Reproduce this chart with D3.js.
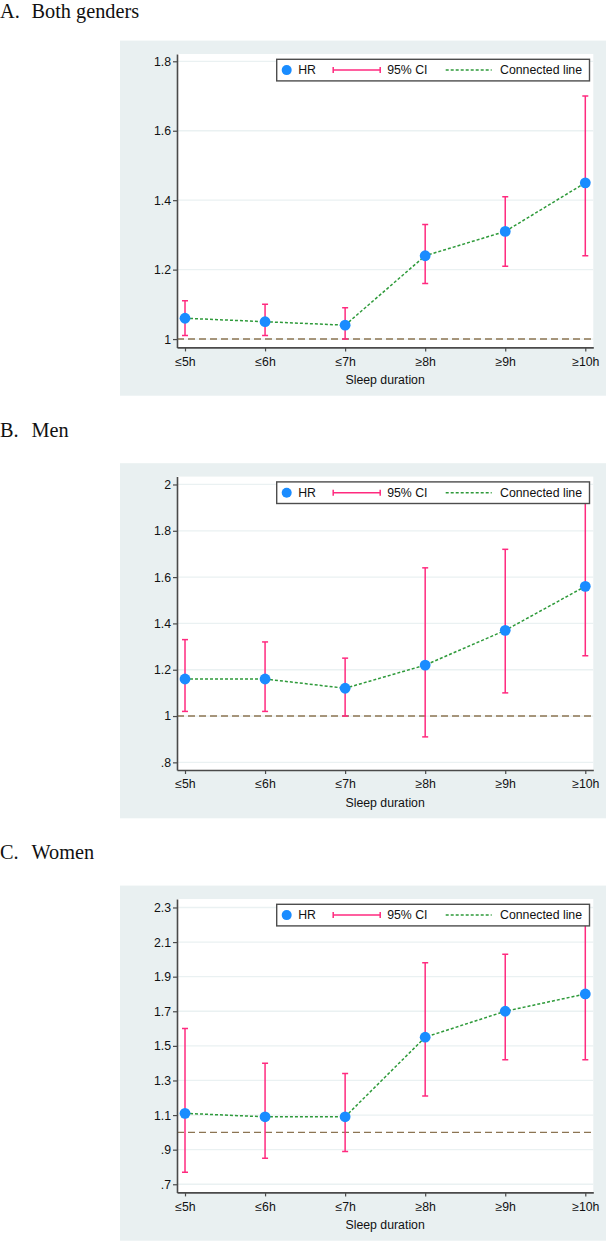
<!DOCTYPE html>
<html><head><meta charset="utf-8">
<script src="https://cdn.jsdelivr.net/npm/d3@7"></script>
<style>body{margin:0;background:#fff}svg{display:block}</style>
</head><body>
<svg id="c" width="606" height="1241"></svg>
<script>
// ---- data ----
const categories = ["≤5h","≤6h","≤7h","≥8h","≥9h","≥10h"];
const panelTitles = ["A.", "B.", "C."];
const panelNames = ["Both genders", "Men", "Women"];
const hrBoth    = [1.06, 1.05, 1.04, 1.24, 1.31, 1.45];
const lowerBoth = [1.01, 1.01, 1.00, 1.16, 1.21, 1.24];
const upperBoth = [1.11, 1.10, 1.09, 1.33, 1.41, 1.70];
const hrMen     = [1.16, 1.16, 1.12, 1.22, 1.37, 1.56];
const lowerMen  = [1.02, 1.02, 1.00, 0.91, 1.10, 1.26];
const upperMen  = [1.33, 1.32, 1.25, 1.64, 1.72, 1.94];
const hrWomen   = [1.11, 1.09, 1.09, 1.55, 1.70, 1.80];
const lowerWomen= [0.77, 0.85, 0.89, 1.21, 1.42, 1.42];
const upperWomen= [1.60, 1.40, 1.34, 1.98, 2.03, 2.28];
const ticksBoth  = [1, 1.2, 1.4, 1.6, 1.8];
const labelsBoth = ["1", "1.2", "1.4", "1.6", "1.8"];
const ticksMen   = [0.8, 1, 1.2, 1.4, 1.6, 1.8, 2];
const labelsMen  = [".8", "1", "1.2", "1.4", "1.6", "1.8", "2"];
const ticksWomen = [0.7, 0.9, 1.1, 1.3, 1.5, 1.7, 1.9, 2.1, 2.3];
const labelsWomen= [".7", ".9", "1.1", "1.3", "1.5", "1.7", "1.9", "2.1", "2.3"];
const yDomainBoth  = [0.976, 1.821];
const yDomainMen   = [0.767, 2.034];
const yDomainWomen = [0.653, 2.349];
const refValue = 1;
const xTitle = "Sleep duration";
const legendLabels = ["HR", "95% CI", "Connected line"];

// ---- layout ----
const svg = d3.select("#c");
const SANS = "'Liberation Sans', Arial, sans-serif";
const SERIF = "'Liberation Serif', 'Times New Roman', serif";
const plotL = 177, plotR = 593.3, plotH = 293.4;
const tops = [54, 476.6, 899];
const C_BG = "#e9f0f1", C_PT = "#1a8cff", C_CI = "#ff2a7f", C_LN = "#2e9a3a", C_REF = "#8c7452", C_AX = "#4a4a4a", C_GRID = "#eaf1f2";

const panels = [
  {hr: hrBoth, lo: lowerBoth, hi: upperBoth, ticks: ticksBoth, labels: labelsBoth, dom: yDomainBoth},
  {hr: hrMen, lo: lowerMen, hi: upperMen, ticks: ticksMen, labels: labelsMen, dom: yDomainMen},
  {hr: hrWomen, lo: lowerWomen, hi: upperWomen, ticks: ticksWomen, labels: labelsWomen, dom: yDomainWomen}
];

const x = d3.scaleLinear().domain([0.9, 6.1]).range([plotL, plotR]);

panels.forEach((p, i) => {
  const T = tops[i], B = T + plotH;
  const y = d3.scaleLinear().domain(p.dom).range([B, T]);
  const g = svg.append("g");

  // title
  const t = g.append("text").attr("y", Math.max(T - 39.6, 18)).attr("font-family", SERIF).attr("font-size", 20.3).attr("fill", "#111");
  t.append("tspan").attr("x", 0).text(panelTitles[i]);
  t.append("tspan").attr("x", 31.5).text(panelNames[i]);

  // graph region
  g.append("rect").attr("x", 120).attr("y", T - 13.4).attr("width", 606 - 120).attr("height", plotH + 13.4 + 48.3).attr("fill", C_BG);
  g.append("rect").attr("x", plotL).attr("y", T).attr("width", plotR - plotL).attr("height", plotH).attr("fill", "#fff");

  const clipId = "clip" + i;
  g.append("clipPath").attr("id", clipId).append("rect").attr("x", plotL).attr("y", T).attr("width", plotR - plotL).attr("height", plotH);

  // gridlines
  g.append("g").selectAll("line").data(p.ticks).join("line")
    .attr("x1", plotL).attr("x2", plotR).attr("y1", d => y(d)).attr("y2", d => y(d))
    .attr("stroke", C_GRID).attr("stroke-width", 1.3);

  // reference line
  g.append("line").attr("x1", plotL).attr("x2", plotR).attr("y1", y(refValue)).attr("y2", y(refValue))
    .attr("stroke", C_REF).attr("stroke-width", 1.4).attr("stroke-dasharray", "7,4");

  const body = g.append("g").attr("clip-path", `url(#${clipId})`);
  // connected line
  const line = d3.line().x((d, k) => x(k + 1)).y(d => y(d));
  body.append("path").attr("d", line(p.hr)).attr("fill", "none").attr("stroke", C_LN)
    .attr("stroke-width", 1.5).attr("stroke-dasharray", "3,2");

  // CI
  const ci = body.append("g").attr("stroke", C_CI).attr("stroke-width", 1.5);
  categories.forEach((c, k) => {
    const cx = x(k + 1);
    ci.append("line").attr("x1", cx).attr("x2", cx).attr("y1", y(p.lo[k])).attr("y2", y(p.hi[k]));
    ci.append("line").attr("x1", cx - 3).attr("x2", cx + 3).attr("y1", y(p.lo[k])).attr("y2", y(p.lo[k]));
    ci.append("line").attr("x1", cx - 3).attr("x2", cx + 3).attr("y1", y(p.hi[k])).attr("y2", y(p.hi[k]));
  });

  // points
  body.selectAll("circle").data(p.hr).join("circle")
    .attr("cx", (d, k) => x(k + 1)).attr("cy", d => y(d)).attr("r", 5.4).attr("fill", C_PT);

  // y axis
  const ya = g.append("g").attr("transform", `translate(${plotL},0)`)
    .call(d3.axisLeft(y).tickValues(p.ticks).tickFormat((d, k) => p.labels[k]).tickSize(4).tickSizeOuter(0).tickPadding(2));
  ya.select(".domain").attr("stroke", C_AX).attr("stroke-width", 1.6);
  ya.selectAll(".tick line").attr("stroke", C_AX).attr("stroke-width", 1.2);
  ya.selectAll("text").attr("font-family", SANS).attr("font-size", 12.3).attr("fill", "#111");

  // x axis
  const xa = g.append("g").attr("transform", `translate(0,${B})`)
    .call(d3.axisBottom(x).tickValues(d3.range(1, categories.length + 1)).tickFormat(d => categories[d - 1]).tickSize(4).tickSizeOuter(0).tickPadding(5.5));
  xa.select(".domain").attr("stroke", C_AX).attr("stroke-width", 1.6);
  xa.selectAll(".tick line").attr("stroke", C_AX).attr("stroke-width", 1.2);
  xa.selectAll("text").attr("font-family", SANS).attr("font-size", 12.3).attr("fill", "#111");

  g.append("text").attr("x", (plotL + plotR) / 2).attr("y", B + 37).attr("text-anchor", "middle")
    .attr("font-family", SANS).attr("font-size", 12.3).attr("fill", "#111").text(xTitle);

  // legend
  const lx = 276.7, ly = T + 5.3, lw = 589.5 - 276.7, lh = 21.6, cy = ly + lh / 2;
  const lg = g.append("g");
  lg.append("rect").attr("x", lx).attr("y", ly).attr("width", lw).attr("height", lh)
    .attr("fill", "#fff").attr("stroke", "#4d4d4d").attr("stroke-width", 1.4);
  lg.append("circle").attr("cx", lx + 10).attr("cy", cy).attr("r", 5).attr("fill", C_PT);
  lg.append("text").attr("x", lx + 21.5).attr("y", cy + 4.3).attr("font-family", SANS).attr("font-size", 12.3).attr("fill", "#111").text(legendLabels[0]);
  const cl = lg.append("g").attr("stroke", C_CI).attr("stroke-width", 1.5);
  cl.append("line").attr("x1", lx + 56.5).attr("x2", lx + 103.5).attr("y1", cy).attr("y2", cy);
  cl.append("line").attr("x1", lx + 56.5).attr("x2", lx + 56.5).attr("y1", cy - 3).attr("y2", cy + 3);
  cl.append("line").attr("x1", lx + 103.5).attr("x2", lx + 103.5).attr("y1", cy - 3).attr("y2", cy + 3);
  lg.append("text").attr("x", lx + 110.5).attr("y", cy + 4.3).attr("font-family", SANS).attr("font-size", 12.3).attr("fill", "#111").text(legendLabels[1]);
  lg.append("line").attr("x1", lx + 169).attr("x2", lx + 215).attr("y1", cy).attr("y2", cy)
    .attr("stroke", C_LN).attr("stroke-width", 1.5).attr("stroke-dasharray", "3,2");
  lg.append("text").attr("x", lx + 223.3).attr("y", cy + 4.3).attr("font-family", SANS).attr("font-size", 12.3).attr("fill", "#111").text(legendLabels[2]);
});
</script>
</body></html>
